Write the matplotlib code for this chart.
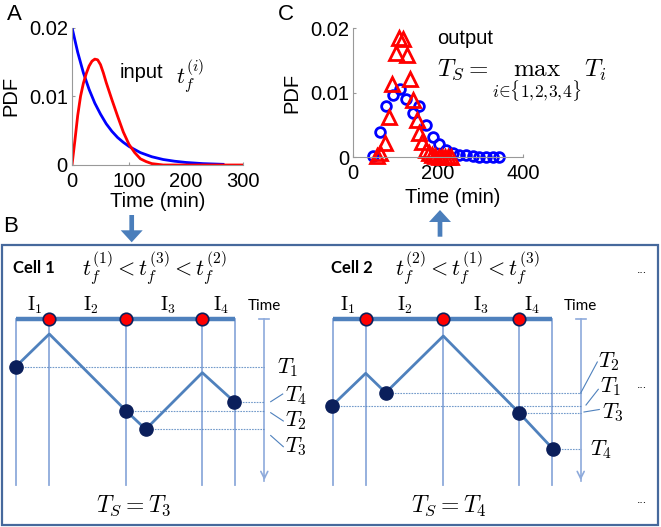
import numpy as np
import matplotlib.pyplot as plt
from matplotlib.patches import FancyArrow, Rectangle

plt.rcParams['font.family'] = ['Liberation Sans', 'DejaVu Sans']
plt.rcParams['mathtext.fontset'] = 'cm'

# panel A: input distributions
a_t_blue = [0, 10, 20, 30, 40, 50, 60, 70, 80, 90, 100, 120, 140, 160, 180, 200, 230, 265]
a_f_blue = [0.0200, 0.0164, 0.0134, 0.0110, 0.0090, 0.0074, 0.0060, 0.0049, 0.0040, 0.0033,
            0.0027, 0.0018, 0.0012, 0.0008, 0.00055, 0.00037, 0.0002, 0.0001]
a_t_red = [0, 5, 10, 15, 20, 25, 30, 35, 40, 45, 50, 55, 60, 70, 80, 90, 100, 110, 120,
           130, 140, 150, 160, 200, 250, 300]
a_f_red = [0, 0.0035, 0.0072, 0.0100, 0.0119, 0.0133, 0.0144, 0.0151, 0.0154, 0.0153, 0.0146,
           0.0134, 0.0120, 0.0095, 0.0071, 0.0048, 0.0030, 0.0018, 0.0009, 0.0005, 0.0002,
           0.0001, 0, 0, 0, 0]

# panel C: output distributions
c_t_blue = [46, 62, 77, 93, 109, 124, 140, 156, 172, 187, 203, 219, 234, 250, 266, 281,
            297, 313, 329, 344]
c_f_blue = [0.0002, 0.0040, 0.0080, 0.0097, 0.0106, 0.0090, 0.0069, 0.0080, 0.0050, 0.0032,
            0.0021, 0.0011, 0.0007, 0.0004, 0.0003, 0.0002, 0.0001, 0.0001, 0, 0]
c_t_red = [55, 64, 74, 84, 91, 100, 108, 117, 126, 133, 141, 150, 156, 163, 171, 178, 186,
           193, 201, 208, 216, 223, 231]
c_f_red = [0.0002, 0.0006, 0.0022, 0.0062, 0.0113, 0.0161, 0.0185, 0.0184, 0.0159, 0.0121,
           0.0089, 0.0058, 0.0037, 0.0024, 0.0011, 0.0006, 0.0003, 0.0002, 0.0001, 0.0001,
           0.0001, 0, 0]

# panel B schematic (pixel coordinates of the figure)
bar_y = 318.5
axis_bottom = 483
cells = [
    dict(name='Cell 1', order=r'$t_f^{(1)} < t_f^{(3)} < t_f^{(2)}$', result=r'$T_S = T_3$',
         bounds=[15.7, 49.3, 126, 201.7, 235], path_x=[15.7, 49.3, 126, 145.7, 202.3, 234.3],
         path_y=[366.7, 334, 410.7, 429.3, 372.7, 401.7], dots=[0, 2, 3, 5], time_x=264.3,
         ilab_x=[35, 91, 168, 221], name_x=13, order_x=82, result_x=134,
         tlabels=['$T_1$', '$T_4$', '$T_2$', '$T_3$'],
         tlab_xy=[(277, 368), (285, 396), (285, 421), (285, 447)],
         leaders=[None, (270.7, 401.7, 282.7, 394), (270.7, 412.7, 283.3, 421),
                  (270.7, 435.5, 283.3, 446.7)]),
    dict(name='Cell 2', order=r'$t_f^{(2)} < t_f^{(1)} < t_f^{(3)}$', result=r'$T_S = T_4$',
         bounds=[332.7, 365.7, 443.3, 519, 551.7], path_x=[331.7, 365.7, 385.7, 443.3, 519, 552.7],
         path_y=[406, 373.3, 392.7, 336, 412.7, 448.7], dots=[0, 2, 4, 5], time_x=580.7,
         ilab_x=[348, 405, 481, 532], name_x=331, order_x=395, result_x=449,
         tlabels=['$T_2$', '$T_1$', '$T_3$', '$T_4$'],
         tlab_xy=[(598, 362), (600, 387), (601.5, 413), (590, 450)],
         leaders=[(580.7, 393, 597.3, 362), (586, 405, 598.3, 389.3), (584, 412, 599.3, 409.5), None]),
]

blue = '#4F81BD'
light = '#8EAADB'
navy = '#0B1F5B'

fig = plt.figure(figsize=(6.61, 5.27), dpi=100)

ov = fig.add_axes([0, 0, 1, 1])
ov.set_xlim(0, 661)
ov.set_ylim(527, 0)
ov.axis('off')

ov.add_patch(Rectangle((1.7, 245), 656.5, 280, fill=False, ec='#46699C', lw=1.6))
ov.add_patch(FancyArrow(131.7, 215, 0, 27.3, width=4.7, head_width=22, head_length=12,
                        length_includes_head=True, color='#4A7EBB', lw=0))
ov.add_patch(FancyArrow(440, 236.7, 0, -26.7, width=4.7, head_width=22, head_length=12,
                        length_includes_head=True, color='#4A7EBB', lw=0))

for txt, x, y in [('A', 14, 14), ('C', 286, 14), ('B', 11, 227)]:
    ov.text(x, y, txt, fontsize=16, ha='center', va='center')

for c in cells:
    b = c['bounds']
    ov.text(c['name_x'], 268, c['name'], fontsize=12, fontweight='bold', family='Lato',
            ha='left', va='center')
    ov.text(c['order_x'], 268, c['order'], fontsize=16, ha='left', va='center')
    ov.text(c['result_x'], 506, c['result'], fontsize=17, ha='center', va='center')
    for i, x in enumerate(c['ilab_x']):
        ov.text(x, 305, r'$\mathrm{I}_{%d}$' % (i + 1), fontsize=14, ha='center', va='center')
    ov.text(c['time_x'], 306, 'Time', fontsize=11, family='Lato', ha='center', va='center')
    for x in b:
        ov.plot([x, x], [bar_y, axis_bottom + 2], color=light, lw=1.3, zorder=1)
    ov.plot([b[0], b[-1]], [bar_y, bar_y], color=blue, lw=3.2, solid_capstyle='butt', zorder=2)
    ov.plot(b[1:4], [bar_y] * 3, 'o', ms=9, mfc='red', mec=navy, mew=1.2, zorder=5)
    tx = c['time_x']
    ov.plot([tx, tx], [bar_y, axis_bottom - 2], color=light, lw=1.2, zorder=1)
    ov.plot([tx - 5, tx + 5], [bar_y, bar_y], color=light, lw=1.2)
    ov.annotate('', xy=(tx, axis_bottom), xytext=(tx, axis_bottom - 10),
                arrowprops=dict(arrowstyle='->,head_length=0.5,head_width=0.25', color=light, lw=1.2))
    for k in c['dots']:
        ov.plot([c['path_x'][k], tx], [c['path_y'][k]] * 2, color=blue, lw=0.8,
                ls=(0, (1.5, 1)), alpha=0.8, zorder=1)
    ov.plot(c['path_x'], c['path_y'], color=blue, lw=2, zorder=3)
    ov.plot([c['path_x'][k] for k in c['dots']], [c['path_y'][k] for k in c['dots']], 'o',
            ms=9.5, color=navy, zorder=4)
    for lab, (x, y) in zip(c['tlabels'], c['tlab_xy']):
        ov.text(x, y, lab, fontsize=16, ha='left', va='center')
    for ld in c['leaders']:
        if ld is not None:
            ov.plot([ld[0], ld[2]], [ld[1], ld[3]], color=blue, lw=0.8)

for y in [270, 385, 500]:
    ov.text(637, y, '...', fontsize=9, ha='left', va='center')

# panel A
ax_a = fig.add_axes([72 / 661, 1 - 165 / 527, 171 / 661, 137.5 / 527])
ax_a.plot(a_t_blue, a_f_blue, color='blue', lw=2)
ax_a.plot(a_t_red, a_f_red, color='red', lw=2)
ax_a.set_xlim(0, 300)
ax_a.set_ylim(0, 0.02)
ax_a.set_xticks([0, 100, 200, 300])
ax_a.set_yticks([0, 0.01, 0.02])
ax_a.set_yticklabels(['0', '0.01', '0.02'])
ax_a.set_xlabel('Time (min)', fontsize=14.5)
ax_a.set_ylabel('PDF', fontsize=14.5)
ax_a.xaxis.set_label_coords(0.5, -0.196)
ax_a.yaxis.set_label_coords(-0.304, 0.5)
ov.text(120, 72, 'input', fontsize=14.5, ha='left', va='center')
ov.text(176, 76, r'$t_f^{(i)}$', fontsize=16, ha='left', va='center')

# panel C
ax_c = fig.add_axes([353.3 / 661, 1 - 157.3 / 527, 169.7 / 661, 129 / 527])
ax_c.plot(c_t_blue, c_f_blue, 'o', mfc='none', mec='blue', ms=7, mew=2, clip_on=False)
ax_c.plot(c_t_red, c_f_red, '^', mfc='none', mec='red', ms=10, mew=2, clip_on=False)
ax_c.set_xlim(0, 400)
ax_c.set_ylim(0, 0.02)
ax_c.set_xticks([0, 200, 400])
ax_c.set_yticks([0, 0.01, 0.02])
ax_c.set_yticklabels(['0', '0.01', '0.02'])
ax_c.set_xlabel('Time (min)', fontsize=14.5)
ax_c.set_ylabel('PDF', fontsize=14.5)
ax_c.xaxis.set_label_coords(0.585, -0.238)
ax_c.yaxis.set_label_coords(-0.304, 0.5)
ov.text(436.7, 38, 'output', fontsize=14.5, ha='left', va='center')
ov.text(436.7, 58, r'$T_S = \max_{i\in\{1,\!2,\!3,\!4\}}\, T_i$', fontsize=18, ha='left', va='top')

for ax in (ax_a, ax_c):
    ax.patch.set_alpha(0)
    for s in ('top', 'right'):
        ax.spines[s].set_visible(False)
    for s in ('left', 'bottom'):
        ax.spines[s].set_color('#999999')
    ax.tick_params(direction='in', length=2, color='#999999', labelsize=14.5)
    ax.tick_params(axis='y', pad=3)
    ax.tick_params(axis='x', pad=5)

fig.savefig('out.png', dpi=100)
